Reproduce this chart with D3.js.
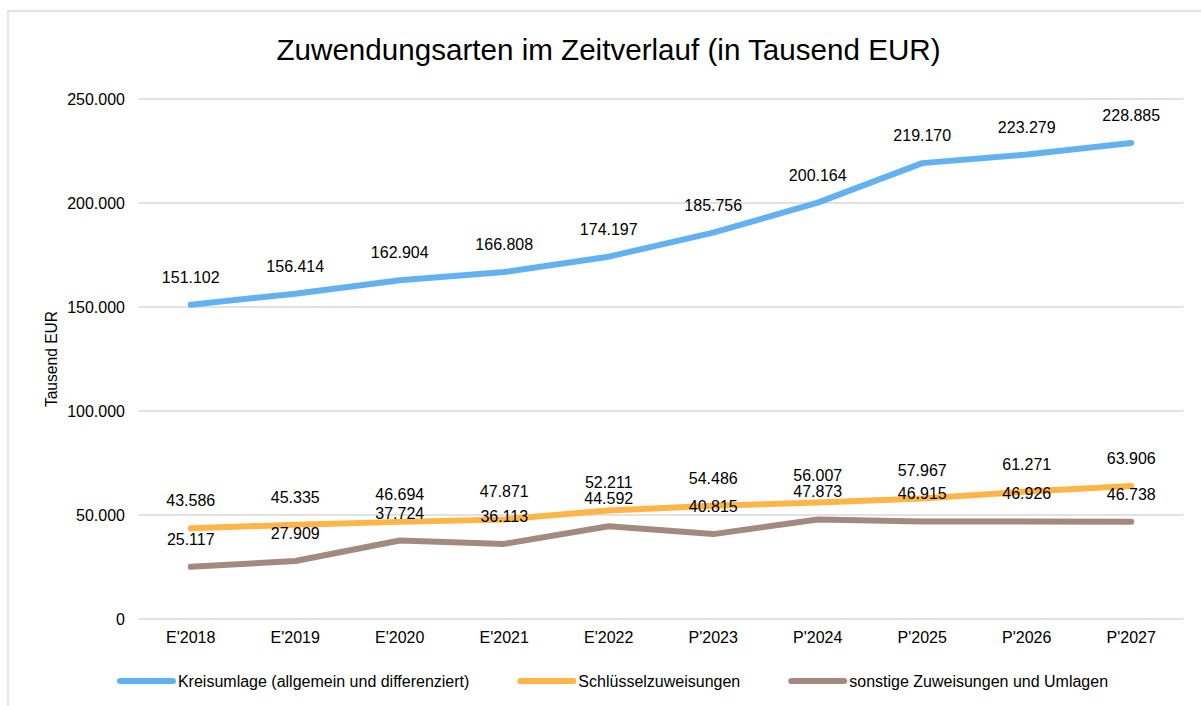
<!DOCTYPE html>
<html>
<head>
<meta charset="utf-8">
<script src="https://cdn.jsdelivr.net/npm/d3@7/dist/d3.min.js"></script>
<style>
  html, body { margin: 0; padding: 0; background: #fff; }
  svg { display: block; font-family: "Liberation Sans", Arial, sans-serif; }
</style>
</head>
<body>
<svg id="chart" width="1201" height="706"></svg>
<script>
const categories = ["E'2018","E'2019","E'2020","E'2021","E'2022","P'2023","P'2024","P'2025","P'2026","P'2027"];
const kreisumlage = [151102,156414,162904,166808,174197,185756,200164,219170,223279,228885];
const schluessel = [43586,45335,46694,47871,52211,54486,56007,57967,61271,63906];
const sonstige = [25117,27909,37724,36113,44592,40815,47873,46915,46926,46738];
const seriesNames = ["Kreisumlage (allgemein und differenziert)","Schlüsselzuweisungen","sonstige Zuweisungen und Umlagen"];
const yTicks = [0,50000,100000,150000,200000,250000];
const title = "Zuwendungsarten im Zeitverlauf (in Tausend EUR)";
const yTitle = "Tausend EUR";

const colors = ["#62B2F1","#FFB548","#A38A80"];
const series = [kreisumlage, schluessel, sonstige];

const locale = d3.formatLocale({decimal: ",", thousands: ".", grouping: [3], currency: ["", " €"]});
const fmt = locale.format(",d");

const svg = d3.select("#chart");

// chart frame
svg.append("rect").attr("x", 8).attr("y", 11).attr("width", 1220).attr("height", 740)
  .attr("fill", "#fff").attr("stroke", "#D9D9D9").attr("stroke-width", 1.4);

const x = d3.scalePoint().domain(categories).range([138.5, 1183.5]).padding(0.5);
const y = d3.scaleLinear().domain([0, 250000]).range([619, 99]);

// gridlines
svg.append("g").selectAll("line").data(yTicks).join("line")
  .attr("x1", 138.5).attr("x2", 1183.5)
  .attr("y1", d => y(d)).attr("y2", d => y(d))
  .attr("stroke", "#D9D9D9").attr("stroke-width", 1.3);

// y tick labels
svg.append("g").selectAll("text").data(yTicks).join("text")
  .attr("x", 125).attr("y", d => y(d)).attr("dy", "0.36em")
  .attr("text-anchor", "end").attr("font-size", 16).attr("fill", "#000")
  .text(d => fmt(d));

// x tick labels
svg.append("g").selectAll("text").data(categories).join("text")
  .attr("x", d => x(d)).attr("y", 643)
  .attr("text-anchor", "middle").attr("font-size", 16).attr("fill", "#000")
  .text(d => d);

// y axis title
svg.append("text").attr("transform", `translate(57,${(y(0)+y(250000))/2}) rotate(-90)`)
  .attr("text-anchor", "middle").attr("font-size", 15.6).attr("fill", "#000").text(yTitle);

// title
svg.append("text").attr("x", 608.5).attr("y", 60).attr("text-anchor", "middle")
  .attr("font-size", 29.6).attr("fill", "#000").text(title);

// lines
const line = d3.line().x((d, i) => x(categories[i])).y(d => y(d));
series.forEach((s, k) => {
  svg.append("path").datum(s).attr("d", line)
    .attr("fill", "none").attr("stroke", colors[k]).attr("stroke-width", 6)
    .attr("stroke-linecap", "round").attr("stroke-linejoin", "round");
});

// data labels
series.forEach((s, k) => {
  svg.append("g").selectAll("text").data(s).join("text")
    .attr("x", (d, i) => x(categories[i])).attr("y", d => y(d) - 22)
    .attr("text-anchor", "middle").attr("font-size", 16).attr("fill", "#000")
    .text(d => fmt(d));
});

// legend
const legend = svg.append("g");
const items = seriesNames.map((n, k) => {
  const g = legend.append("g");
  g.append("line").attr("x1", 0).attr("x2", 53).attr("y1", 681).attr("y2", 681)
    .attr("stroke", colors[k]).attr("stroke-width", 6).attr("stroke-linecap", "round");
  const t = g.append("text").attr("x", 58).attr("y", 681).attr("dy", "0.36em")
    .attr("font-size", 16).attr("fill", "#000").text(n);
  return {g, w: 58 + t.node().getComputedTextLength()};
});
const gap = 51;
const total = d3.sum(items, d => d.w) + gap * (items.length - 1);
let cx = 614 - total / 2;
items.forEach(it => { it.g.attr("transform", `translate(${cx},0)`); cx += it.w + gap; });
</script>
</body>
</html>
